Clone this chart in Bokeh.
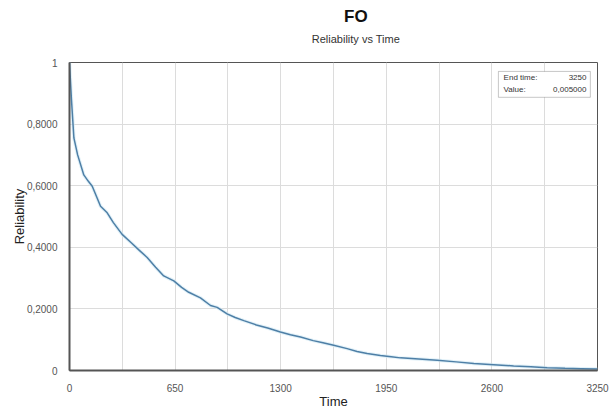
from bokeh.plotting import figure
from bokeh.layouts import column
from bokeh.models import FixedTicker, BoxAnnotation, Label, Range1d
from bokeh.embed import file_html
from bokeh.resources import INLINE

# Data
time = [0, 12, 27, 50, 88, 115, 140, 170, 191, 232, 270, 324, 380, 430, 478, 530, 580,
        642, 690, 734, 806, 868, 909, 970, 1020, 1073, 1150, 1220, 1298, 1360, 1422, 1500,
        1560, 1626, 1709, 1770, 1832, 1914, 1980, 2037, 2150, 2263, 2380, 2489, 2611, 2734,
        2840, 2940, 3050, 3150, 3250]
reliability = [1.0, 0.88, 0.755, 0.70, 0.635, 0.615, 0.598, 0.56, 0.533, 0.512, 0.48, 0.442,
               0.415, 0.39, 0.367, 0.335, 0.307, 0.291, 0.27, 0.254, 0.236, 0.211, 0.205,
               0.184, 0.172, 0.162, 0.148, 0.138, 0.125, 0.116, 0.109, 0.097, 0.09, 0.082,
               0.071, 0.062, 0.055, 0.049, 0.045, 0.041, 0.037, 0.033, 0.028, 0.023, 0.019,
               0.015, 0.012, 0.009, 0.007, 0.006, 0.005]
x_ticks = [0, 650, 1300, 1950, 2600, 3250]
x_grid = [0, 325, 650, 975, 1300, 1625, 1950, 2275, 2600, 2925, 3250]
y_ticks = [0, 0.2, 0.4, 0.6, 0.8, 1.0]
y_labels = ["0", "0,2000", "0,4000", "0,6000", "0,8000", "1"]
title_text = "FO"
subtitle_text = "Reliability vs Time"
end_time = "3250"
end_value = "0,005000"

FONT = "Liberation Sans"

# Header strip carrying the title and subtitle
head = figure(width=614, height=50, output_backend="svg", toolbar_location=None,
              x_range=Range1d(0, 614), y_range=Range1d(50, 0),
              x_axis_type=None, y_axis_type=None,
              min_border_left=0, min_border_right=0, min_border_top=0, min_border_bottom=0)
head.grid.visible = False
head.outline_line_color = None
head.add_layout(Label(x=333, y=16, text=title_text, text_font=FONT, text_font_size="17px",
                      text_font_style="bold", text_color="#111111",
                      text_align="center", text_baseline="middle"))
head.add_layout(Label(x=333, y=38, text=subtitle_text, text_font=FONT,
                      text_font_size="11px", text_color="#333333",
                      text_align="center", text_baseline="middle"))

p = figure(width=614, height=361, output_backend="svg", toolbar_location=None,
           x_range=Range1d(0, 3250), y_range=Range1d(0, 1),
           min_border_left=69, min_border_right=17, min_border_top=12, min_border_bottom=39)
p.title = None

p.line(time, reliability, line_color="#cfe8f4", line_width=3.5, line_alpha=0.6)
p.line(time, reliability, line_color="#4e7fa6", line_width=1.5)

p.xaxis.ticker = FixedTicker(ticks=x_ticks)
p.xgrid.ticker = FixedTicker(ticks=x_grid)
p.yaxis.ticker = FixedTicker(ticks=y_ticks)
p.ygrid.ticker = FixedTicker(ticks=y_ticks)
p.yaxis.major_label_overrides = {t: l for t, l in zip(y_ticks, y_labels)}

for ax in (p.xaxis, p.yaxis):
    ax.major_tick_line_color = None
    ax.minor_tick_line_color = None
    ax.axis_line_color = "#555555"
    ax.axis_line_width = 2
    ax.major_label_text_font = FONT
    ax.major_label_text_font_size = "10px"
    ax.major_label_text_color = "#555555"
    ax.axis_label_text_font = FONT
    ax.axis_label_text_font_size = "13px"
    ax.axis_label_text_font_style = "normal"
    ax.axis_label_text_color = "#222222"

p.xaxis.axis_label = "Time"
p.yaxis.axis_label = "Reliability"
p.xaxis.major_label_standoff = 7
p.xaxis.axis_label_standoff = -1
p.yaxis.major_label_standoff = 6
p.yaxis.axis_label_standoff = -3

p.grid.grid_line_color = "#dcdcdc"
p.grid.grid_line_width = 1
p.outline_line_color = "#555555"
p.outline_line_width = 1
p.background_fill_color = "white"
p.border_fill_color = "white"

# Info box in the top-right corner
p.add_layout(BoxAnnotation(left=2640, right=3206, bottom=0.887, top=0.971,
                           fill_color="white", fill_alpha=1,
                           line_color="#444444", line_width=1))
p.add_layout(Label(x=2672, y=0.952, text="End time:", text_font=FONT, text_font_size="8px",
                   text_color="#333333", text_baseline="middle", text_align="left"))
p.add_layout(Label(x=3182, y=0.952, text=end_time, text_font=FONT, text_font_size="8px",
                   text_color="#333333", text_baseline="middle", text_align="right"))
p.add_layout(Label(x=2672, y=0.912, text="Value:", text_font=FONT, text_font_size="8px",
                   text_color="#333333", text_baseline="middle", text_align="left"))
p.add_layout(Label(x=3182, y=0.912, text=end_value, text_font=FONT, text_font_size="8px",
                   text_color="#333333", text_baseline="middle", text_align="right"))

layout = column(head, p, spacing=0)
open("out.html", "w").write(file_html(layout, INLINE))
